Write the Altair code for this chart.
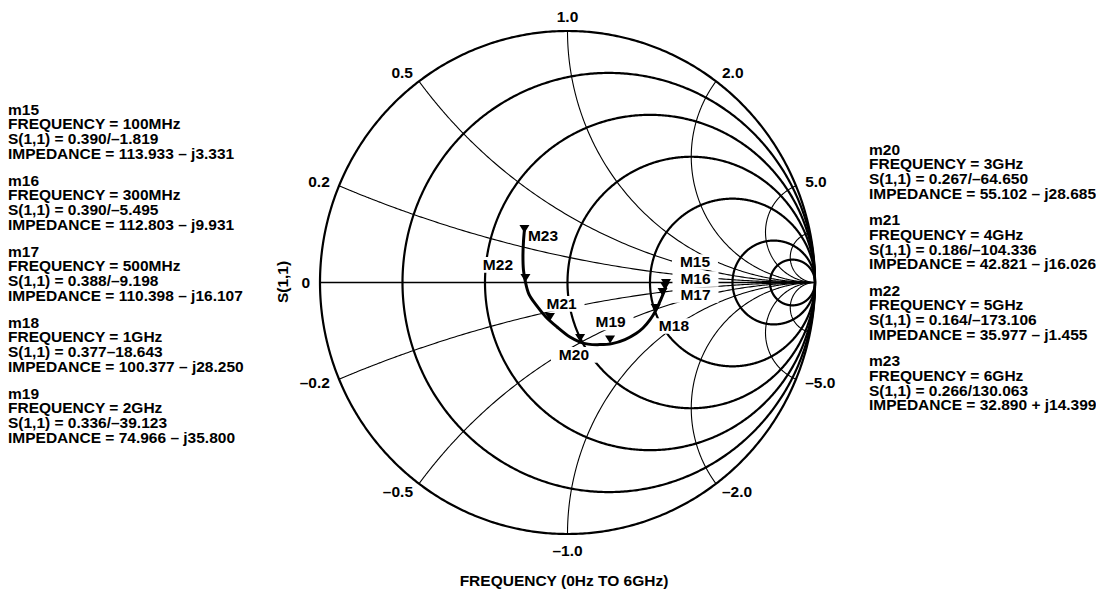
import altair as alt
import numpy as np
import pandas as pd

# ------------------------------------------------------------------ data
r_circles = [0.2, 0.5, 1.0, 2.0, 5.0, 10.0]
x_arcs = [0.2, 0.5, 1.0, 2.0, 5.0, 10.0]
x_tick_vals = [0.2, 0.5, 1.0, 2.0, 5.0, 0.0, -0.2, -0.5, -1.0, -2.0, -5.0]
x_tick_text = ["0.2", "0.5", "1.0", "2.0", "5.0", "0", "–0.2", "–0.5", "–1.0", "–2.0", "–5.0"]

trace_re = [0.398, 0.396, 0.388, 0.374, 0.358, 0.333, 0.305, 0.277, 0.232, 0.180, 0.131,
            0.083, 0.051, 0.010, -0.042, -0.087, -0.127, -0.156, -0.170, -0.178, -0.180,
            -0.178, -0.174]
trace_im = [0.002, -0.018, -0.042, -0.074, -0.109, -0.149, -0.181, -0.203, -0.227, -0.243,
            -0.247, -0.245, -0.237, -0.217, -0.177, -0.137, -0.089, -0.046, 0.002, 0.050,
            0.109, 0.161, 0.209]

marker_names = ["M15", "M16", "M17", "M18", "M19", "M20", "M21", "M22", "M23"]
marker_re = [0.398, 0.394, 0.384, 0.356, 0.172, 0.051, -0.071, -0.170, -0.174]
marker_im = [-0.018, -0.030, -0.054, -0.117, -0.243, -0.237, -0.153, 0.002, 0.197]
label_re = [0.515, 0.517, 0.517, 0.430, 0.174, 0.026, -0.024, -0.281, -0.099]
label_im = [0.0815, 0.0139, -0.0497, -0.173, -0.159, -0.288, -0.085, 0.070, 0.183]

marker_ids = ["m15", "m16", "m17", "m18", "m19", "m20", "m21", "m22", "m23"]
freq_text = ["100MHz", "300MHz", "500MHz", "1GHz", "2GHz", "3GHz", "4GHz", "5GHz", "6GHz"]
s11_text = ["0.390/–1.819", "0.390/–5.495", "0.388/–9.198", "0.377–18.643", "0.336/–39.123",
            "0.267/–64.650", "0.186/–104.336", "0.164/–173.106", "0.266/130.063"]
z_text = ["113.933 – j3.331", "112.803 – j9.931", "110.398 – j16.107", "100.377 – j28.250",
          "74.966 – j35.800", "55.102 – j28.685", "42.821 – j16.026", "35.977 – j1.455",
          "32.890 + j14.399"]

# ------------------------------------------------------------------ layout
CX, CY, SX, SY = 567.5, 282.5, 247.5, 251.5   # page pixel centre & radii
FONT = "Liberation Sans"
FS = 15.5
LH = 14.8


def gx(p):
    return (p - CX) / SX


def gy(p):
    return (CY - p) / SY


# grid geometry
rows = []
for i, r in enumerate([0.0] + r_circles):
    c, rad = r / (1 + r), 1 / (1 + r)
    t = np.linspace(0, 2 * np.pi, 721)
    for k, tt in enumerate(t):
        rows.append(dict(id=f"r{i}", k=k, gx=c + rad * np.cos(tt), gy=rad * np.sin(tt),
                     kind="outer" if r == 0 else "r"))
rr = np.concatenate([[0.0], np.geomspace(1e-3, 1e5, 600)])
for x in x_arcs + [-v for v in x_arcs]:
    g = (rr + 1j * x - 1) / (rr + 1j * x + 1)
    for k, gg in enumerate(g):
        rows.append(dict(id=f"x{x}", k=k, gx=gg.real, gy=gg.imag, kind="x"))
grid = pd.DataFrame(rows)

xsc = alt.Scale(domain=[-1, 1], nice=False, zero=False)
ysc = alt.Scale(domain=[-1, 1], nice=False, zero=False)
X = alt.X("gx:Q", scale=xsc, axis=None)
Y = alt.Y("gy:Q", scale=ysc, axis=None)

thick = alt.Chart(grid[grid.kind != "x"]).mark_line(color="black", strokeWidth=2.2).encode(
    x=X, y=Y, detail="id:N", order="k:Q")
thin = alt.Chart(grid[grid.kind == "x"]).mark_line(color="black", strokeWidth=1.1).encode(
    x=X, y=Y, detail="id:N", order="k:Q")
axis_df = pd.DataFrame(dict(gx=[-1.0, 1.0], gy=[0.0, 0.0], k=[0, 1]))
real_axis = alt.Chart(axis_df).mark_line(color="black", strokeWidth=1.6).encode(
    x=X, y=Y, order="k:Q")

# reactance labels
lab = []
for v, t in zip(x_tick_vals, x_tick_text):
    ex, ey = (v * v - 1) / (v * v + 1), 2 * v / (v * v + 1)
    th = np.arctan2(ey, ex)
    d = 10.0
    if v == 1.0:
        grp, d = "top", 6.0
    elif v == -1.0:
        grp = "bottom"
    elif ex < 0:
        grp = "left"
    else:
        grp = "right"
    px = ex + d * np.cos(th) / SX
    py = ey + d * np.sin(th) / SY
    lab.append(dict(gx=px, gy=py, t=t, grp=grp))
lab = pd.DataFrame(lab)


def tick_layer(grp, align, baseline):
    return alt.Chart(lab[lab.grp == grp]).mark_text(
        font=FONT, fontSize=FS, fontWeight="bold", align=align, baseline=baseline,
        color="black").encode(x=X, y=Y, text="t:N")


ticks = [tick_layer("top", "center", "bottom"), tick_layer("bottom", "center", "top"),
         tick_layer("left", "right", "middle"), tick_layer("right", "left", "middle")]

# trace
tr = pd.DataFrame(dict(gx=trace_re, gy=trace_im, k=range(len(trace_re))))
trace = alt.Chart(tr).mark_line(color="black", strokeWidth=3, interpolate="catmull-rom").encode(
    x=X, y=Y, order="k:Q")

mk = pd.DataFrame(dict(gx=marker_re, gy=marker_im, name=marker_names))
markers = alt.Chart(mk).mark_point(shape="M-1,-1.6L1,-1.6L0,0Z", filled=True, size=100,
                                   color="black", opacity=1).encode(x=X, y=Y)

lb = pd.DataFrame(dict(gx=label_re, gy=label_im, name=marker_names))
boxes = alt.Chart(lb).mark_point(shape="M-1,-0.34L1,-0.34L1,0.34L-1,0.34Z", filled=True,
                                 size=46 * 46, color="white", opacity=1).encode(x=X, y=Y)
mlabels = alt.Chart(lb).mark_text(font=FONT, fontSize=FS, fontWeight="bold", color="black",
                                  align="center", baseline="middle").encode(x=X, y=Y, text="name:N")

# side annotation blocks (one multi-line text per marker)
side = []
for i, mid in enumerate(marker_ids):
    lines = [mid, f"FREQUENCY = {freq_text[i]}", f"S(1,1) = {s11_text[i]}",
             f"IMPEDANCE = {z_text[i]}"]
    if i < 5:
        x0, y0 = 8, 109.5 + 71 * i
    else:
        x0, y0 = 869, 149.5 + 70.5 * (i - 5)
    side.append(dict(gx=gx(x0), gy=gy(y0), t="\n".join(lines)))
side = pd.DataFrame(side)
side_text = alt.Chart(side).mark_text(font=FONT, fontSize=FS, fontWeight="bold", color="black",
                                      align="left", baseline="middle", lineBreak="\n",
                                      lineHeight=LH).encode(x=X, y=Y, text="t:N")

misc = pd.DataFrame(dict(gx=[gx(564)], gy=[gy(581)], t=["FREQUENCY (0Hz TO 6GHz)"]))
xtitle = alt.Chart(misc).mark_text(font=FONT, fontSize=FS, fontWeight="bold", color="black",
                                   align="center", baseline="middle").encode(x=X, y=Y, text="t:N")
ylab = pd.DataFrame(dict(gx=[gx(283)], gy=[gy(282)], t=["S(1,1)"]))
ytitle = alt.Chart(ylab).mark_text(font=FONT, fontSize=FS, fontWeight="bold", color="black",
                                   align="center", baseline="middle", angle=270).encode(
    x=X, y=Y, text="t:N")

chart = alt.layer(thick, thin, real_axis, boxes, trace, markers, mlabels, *ticks, side_text,
                  xtitle, ytitle).properties(
    width=495, height=503,
    autosize=alt.AutoSizeParams(type="none"),
    padding={"left": 312, "top": 23, "right": 281, "bottom": 56},
).configure_view(stroke=None, strokeWidth=0)

chart.save("out.html", embed_options={"renderer": "svg", "actions": False})
